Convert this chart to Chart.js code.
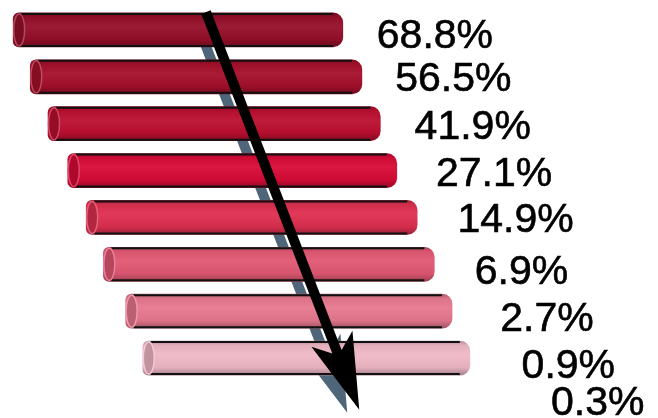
<!DOCTYPE html>
<html>
<head>
<meta charset="utf-8">
<script src="https://cdn.jsdelivr.net/npm/chart.js@4"></script>
<style>
html,body{margin:0;padding:0;background:#fff;}
#c{display:block;}
</style>
</head>
<body>
<canvas id="c" width="658" height="418"></canvas>
<script>
// ---- data ----
const categories = ['1', '2', '3', '4', '5', '6', '7', '8', '9'];
const barStart = [2.0, 4.6, 7.3, 10.3, 13.1, 15.7, 19.1, 21.7, null];
const barEnd   = [52.1, 55.0, 57.8, 60.3, 63.4, 66.0, 68.7, 71.4, null];
const shareLabels = ['68.8%', '56.5%', '41.9%', '27.1%', '14.9%', '6.9%', '2.7%', '0.9%', '0.3%'];
const arrowFrom = [31.3, -0.38];   // [x value, category position]
const arrowTo   = [54.6, 8.1];

// ---- styles ----
const barColors = ['#960f29', '#a5102b', '#bc0f30', '#d80b37', '#de2f50', '#e25874', '#e8788f', '#f0b8c7'];

function shade(hex, f) {
  const n = parseInt(hex.slice(1), 16);
  let r = (n >> 16) & 255, g = (n >> 8) & 255, b = n & 255;
  if (f < 1) { r *= f; g *= f; b *= f; }
  else { const t = f - 1; r += (255 - r) * t; g += (255 - g) * t; b += (255 - b) * t; }
  return `rgb(${Math.round(r)},${Math.round(g)},${Math.round(b)})`;
}

const BAR_H = 34;

function barGradient(ctx) {
  const chart = ctx.chart;
  const i = ctx.dataIndex;
  const ys = chart.scales.y;
  const base = barColors[i] || '#ccc';
  if (!ys || ys.top === undefined) return base;
  const yc = ys.getPixelForValue(i);
  const g = chart.ctx.createLinearGradient(0, yc - BAR_H / 2, 0, yc + BAR_H / 2);
  g.addColorStop(0, shade(base, 0.75));
  g.addColorStop(0.12, shade(base, 0.95));
  g.addColorStop(0.4, shade(base, 1.05));
  g.addColorStop(0.78, shade(base, 0.95));
  g.addColorStop(1, shade(base, 0.7));
  return g;
}

function arrowPath(ctx, p0, p1, dx, dy) {
  const vx = p1.x - p0.x, vy = p1.y - p0.y;
  const L = Math.hypot(vx, vy);
  const ux = vx / L, uy = vy / L;
  const nx = -uy, ny = ux;
  const sw = 5, headLen = 76, headW = 22, notch = 14;
  const hb = { x: p1.x - ux * (headLen - notch), y: p1.y - uy * (headLen - notch) };
  const bl = { x: p1.x - ux * headLen + nx * headW, y: p1.y - uy * headLen + ny * headW };
  const br = { x: p1.x - ux * headLen - nx * headW, y: p1.y - uy * headLen - ny * headW };
  ctx.beginPath();
  ctx.moveTo(p0.x + nx * sw + dx, p0.y + ny * sw + dy);
  ctx.lineTo(hb.x + nx * sw + dx, hb.y + ny * sw + dy);
  ctx.lineTo(bl.x + dx, bl.y + dy);
  ctx.lineTo(p1.x + dx, p1.y + dy);
  ctx.lineTo(br.x + dx, br.y + dy);
  ctx.lineTo(hb.x - nx * sw + dx, hb.y - ny * sw + dy);
  ctx.lineTo(p0.x - nx * sw + dx, p0.y - ny * sw + dy);
  ctx.closePath();
}

function arrowPoints(chart) {
  const xs = chart.scales.x, ys = chart.scales.y;
  return [
    { x: xs.getPixelForValue(arrowFrom[0]), y: ys.getPixelForValue(arrowFrom[1]) },
    { x: xs.getPixelForValue(arrowTo[0]), y: ys.getPixelForValue(arrowTo[1]) }
  ];
}

const labelShiftX = [0, -3, -5, -5, -5, -9, -5, -5, 3];
const labelShiftY = [3, -1, 0, 0, 0, 5, 5, 5, -5];

const decor = {
  id: 'decor',
  beforeDatasetsDraw(chart) {
    const ctx = chart.ctx;
    const [p0, p1] = arrowPoints(chart);
    ctx.save();
    ctx.fillStyle = '#4f6579';
    arrowPath(ctx, p0, p1, -12, 3);
    ctx.fill();
    ctx.restore();
  },
  afterDatasetsDraw(chart) {
    const ctx = chart.ctx;
    const meta = chart.getDatasetMeta(0);
    const ys = chart.scales.y, xs = chart.scales.x;
    ctx.save();
    meta.data.forEach((bar, i) => {
      if (barStart[i] == null) return;
      const left = Math.min(bar.x, bar.base), right = Math.max(bar.x, bar.base);
      const top = bar.y - BAR_H / 2, bottom = bar.y + BAR_H / 2;
      ctx.strokeStyle = '#111';
      ctx.lineWidth = 2;
      ctx.beginPath();
      ctx.moveTo(left + 8, top + 1); ctx.lineTo(right - 10, top + 1);
      ctx.moveTo(left + 8, bottom - 1); ctx.lineTo(right - 10, bottom - 1);
      ctx.stroke();
      const base = barColors[i];
      ctx.beginPath();
      ctx.ellipse(left + 6, bar.y, 5.5, BAR_H / 2 - 1, 0, 0, Math.PI * 2);
      ctx.fillStyle = shade(base, 0.8);
      ctx.fill();
      ctx.lineWidth = 1.5;
      ctx.strokeStyle = shade(base, 1.25);
      ctx.stroke();
    });
    const [p0, p1] = arrowPoints(chart);
    ctx.fillStyle = '#000';
    arrowPath(ctx, p0, p1, 0, 0);
    ctx.fill();
    const firstEnd = xs.getPixelForValue(barEnd[0]);
    ctx.fillStyle = '#000';
    ctx.strokeStyle = '#000';
    ctx.lineWidth = 0.6;
    ctx.font = '41px "Liberation Sans", Arial, sans-serif';
    ctx.textAlign = 'left';
    ctx.textBaseline = 'alphabetic';
    shareLabels.forEach((t, i) => {
      const x = firstEnd + 34 + i * 21.4 + labelShiftX[i];
      const y = ys.getPixelForValue(i) + 15 + labelShiftY[i];
      ctx.fillText(t, x, y);
      ctx.strokeText(t, x, y);
    });
    ctx.restore();
  }
};

new Chart(document.getElementById('c'), {
  type: 'bar',
  data: {
    labels: categories,
    datasets: [{
      data: categories.map((c, i) => barStart[i] == null ? null : [barStart[i], barEnd[i]]),
      backgroundColor: barGradient,
      borderWidth: 0,
      borderSkipped: false,
      borderRadius: { topLeft: 6, bottomLeft: 6, topRight: 10, bottomRight: 10 },
      barThickness: BAR_H
    }]
  },
  options: {
    indexAxis: 'y',
    responsive: false,
    animation: false,
    devicePixelRatio: 1,
    layout: { padding: { left: 0, right: 0, top: 6.5, bottom: 36.5 } },
    plugins: { legend: { display: false }, tooltip: { enabled: false } },
    scales: {
      x: { type: 'linear', min: 0, max: 100, display: false },
      y: { type: 'category', max: 7, display: false }
    }
  },
  plugins: [decor]
});
</script>
</body>
</html>
